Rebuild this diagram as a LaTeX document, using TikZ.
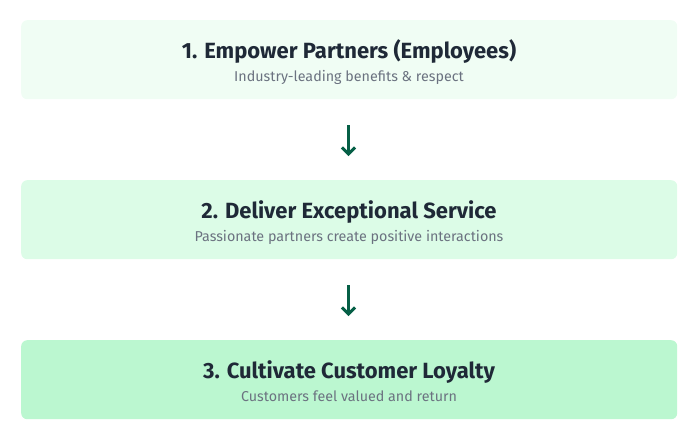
\documentclass[tikz,border=0pt]{standalone}
\usepackage{fontspec}
\setmainfont{Fira Sans}
\usetikzlibrary{arrows.meta}
\definecolor{bgA}{HTML}{F0FDF4}
\definecolor{bgB}{HTML}{DCFCE7}
\definecolor{bgC}{HTML}{BBF7D0}
\definecolor{titlec}{HTML}{1F2937}
\definecolor{subc}{HTML}{6B7280}
\definecolor{arrowc}{HTML}{065F46}
\begin{document}
\begin{tikzpicture}[x=1pt,y=-1pt,
  stage/.style={rounded corners=6pt, minimum width=656pt, minimum height=79pt, inner sep=0pt, anchor=north west},
  ttl/.style={font=\fontsize{22}{26}\selectfont\bfseries, text=titlec, anchor=base},
  sub/.style={font=\fontsize{14.3}{17}\selectfont, text=subc, anchor=base},
  flow/.style={draw=arrowc, line width=3pt, -{Straight Barb[length=6.5pt,width=13pt,line width=3pt]}}]
\useasboundingbox (0,0) rectangle (693,437);
\node[stage, fill=bgA] (b1) at (21,20) {};
\node[stage, fill=bgB] (b2) at (21,180) {};
\node[stage, fill=bgC] (b3) at (21,340) {};
\node[ttl] (t1) at (349,58) {1. Empower Partners (Employees)};
\node[sub] (s1) at (349,81) {Industry-leading benefits \& respect};
\node[ttl] (t2) at (349,218) {2. Deliver Exceptional Service};
\node[sub] (s2) at (349,241) {Passionate partners create positive interactions};
\node[ttl] (t3) at (349,378) {3. Cultivate Customer Loyalty};
\node[sub] (s3) at (349,401) {Customers feel valued and return};
\coordinate (a1s) at (348.5,125);
\coordinate (a1e) at (348.5,156);
\coordinate (a2s) at (348.5,285);
\coordinate (a2e) at (348.5,316);
\draw[flow] (a1s) -- (a1e);
\draw[flow] (a2s) -- (a2e);
\end{tikzpicture}
\end{document}
